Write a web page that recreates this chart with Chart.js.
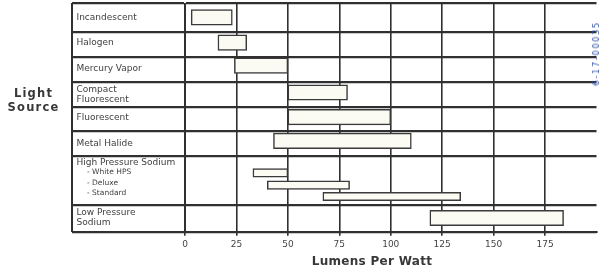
<!DOCTYPE html>
<html>
<head>
<meta charset="utf-8">
<script src="https://cdn.jsdelivr.net/npm/chart.js@4.4.1/dist/chart.umd.min.js"></script>
<style>
html,body{margin:0;padding:0;background:#fff;}
#wrap{position:relative;width:600px;height:272px;overflow:hidden;background:#fff;}
#c{position:absolute;left:0;top:0;}
.t{position:absolute;font-family:"DejaVu Sans",sans-serif;font-weight:bold;color:#383838;white-space:nowrap;}
#ytitle{left:0;top:85.6px;width:67px;text-align:center;font-size:11.5px;line-height:14.3px;letter-spacing:1.2px;}
#xtitle{left:292px;top:253.5px;width:160px;text-align:center;font-size:12px;line-height:14px;letter-spacing:0.3px;}
#stamp{position:absolute;left:593px;top:21px;font-family:"DejaVu Sans",sans-serif;font-size:8px;line-height:8px;color:#2e4e9e;letter-spacing:1.8px;writing-mode:vertical-rl;transform:rotate(180deg);white-space:nowrap;}
</style>
</head>
<body>
<div id="wrap">
<canvas id="c" width="600" height="272"></canvas>
<div class="t" id="ytitle">Light<br>Source</div>
<div class="t" id="xtitle">Lumens Per Watt</div>
<div id="stamp">6-17-00035</div>
</div>
<script>
// ---- data ----
const categories = ['Incandescent', 'Halogen', 'Mercury Vapor', 'Compact Fluorescent', 'Fluorescent',
                    'Metal Halide', 'White HPS', 'Deluxe', 'Standard', 'Low Pressure Sodium'];
const lowValues  = [3, 16, 24, 50, 50, 43, 33, 40, 67, 119];
const highValues = [23, 30, 50, 79, 100, 110, 50, 80, 134, 184];
const hpsSubtype = [false, false, false, false, false, false, true, true, true, false];
const rowLabels = [['Incandescent'], ['Halogen'], ['Mercury Vapor'], ['Compact', 'Fluorescent'], ['Fluorescent'],
                   ['Metal Halide'], ['High Pressure Sodium'], ['- White HPS'], ['- Deluxe'], ['- Standard'],
                   ['Low Pressure', 'Sodium']];
const rowLabelSub = [false, false, false, false, false, false, false, true, true, true, false];
const xTickLabels = ['0', '25', '50', '75', '100', '125', '150', '175'];

// ---- layout (row slots on the light-source axis, in row units) ----
const barSlot   = [0.55, 1.54, 2.45, 3.51, 4.48, 5.42, 6.68, 7.16, 7.61, 8.46];
const labelSlot = [0.55, 1.56, 2.58, 3.60, 4.50, 5.52, 6.27, 6.66, 7.10, 7.47, 8.46];
const rowEdges  = [0, 1.136, 2.098, 3.084, 4.07, 5.028, 6.002, 7.946, 9];

const FAMILY = '"DejaVu Sans", sans-serif';
const LINE = '#303030';

function makeData(sub) {
  const d = [];
  categories.forEach((c, i) => {
    if (hpsSubtype[i] === sub) d.push({ y: barSlot[i], x: [lowValues[i], highValues[i]], name: c });
  });
  return d;
}

const barStyle = {
  backgroundColor: '#fbfaf3',
  borderColor: '#3a3a3a',
  borderWidth: 1.5,
  borderSkipped: false,
  stack: 'all'
};

new Chart(document.getElementById('c'), {
  type: 'bar',
  data: {
    datasets: [
      Object.assign({ label: 'Light source', data: makeData(false), barThickness: 15.5 }, barStyle),
      Object.assign({ label: 'High Pressure Sodium', data: makeData(true), barThickness: 8.5 }, barStyle)
    ]
  },
  options: {
    indexAxis: 'y',
    responsive: false,
    animation: false,
    events: [],
    layout: { padding: { left: 72, top: 3.5, right: 0, bottom: 0 }, autoPadding: false },
    plugins: { legend: { display: false }, tooltip: { enabled: false }, title: { display: false } },
    scales: {
      x: {
        type: 'linear',
        position: 'bottom',
        min: 0, max: 200,
        stacked: false,
        offset: false,
        afterFit: (s) => { s.height = 40.3; },
        ticks: {
          stepSize: 25,
          autoSkip: false,
          maxRotation: 0,
          padding: 3.5,
          color: '#444',
          font: { family: FAMILY, size: 9 },
          callback: (v, i) => (xTickLabels[i] !== undefined ? xTickLabels[i] : '')
        },
        grid: {
          color: (ctx) => (ctx.tick && ctx.tick.value >= 200 ? 'rgba(0,0,0,0)' : LINE),
          lineWidth: 1.6,
          tickLength: 4,
          drawTicks: true,
          offset: false
        },
        border: { display: true, color: LINE, width: 2 }
      },
      y: {
        type: 'linear',
        position: 'left',
        reverse: true,
        min: 0, max: 9,
        offset: false,
        weight: 0,
        afterFit: (s) => { s.width = 113; },
        afterBuildTicks: (s) => {
          const t = [];
          labelSlot.forEach((v, i) => t.push({ value: v, kind: rowLabelSub[i] ? 'sub' : 'main', lines: rowLabels[i] }));
          rowEdges.forEach((v) => t.push({ value: v, kind: 'edge' }));
          s.ticks = t;
        },
        ticks: {
          autoSkip: false,
          crossAlign: 'far',
          padding: 0,
          color: '#404040',
          font: (ctx) => {
            const k = ctx.tick ? ctx.tick.kind : 'edge';
            if (k === 'sub') return { family: FAMILY, size: 7.5, lineHeight: 1.1 };
            if (k === 'main') return { family: FAMILY, size: 9, lineHeight: 1.1 };
            return { family: FAMILY, size: 1, lineHeight: 1 };
          },
          callback: function (v, i, ticks) {
            const t = ticks[i];
            if (!t || t.kind === 'edge') return '';
            const pre = t.kind === 'sub' ? '\u2003\u2003' : '\u2002';
            return t.lines.map((l) => pre + l);
          }
        },
        grid: {
          color: (ctx) => (ctx.tick && ctx.tick.kind === 'edge' ? LINE : 'rgba(0,0,0,0)'),
          lineWidth: 2.2,
          tickLength: 113,
          drawTicks: true,
          offset: false
        },
        border: { display: true, color: LINE, width: 2 }
      },
      yb: {
        type: 'linear',
        position: 'left',
        min: 0, max: 9,
        offset: false,
        weight: 10,
        afterFit: (s) => { s.width = 0; },
        ticks: { display: false },
        grid: { display: false, drawTicks: false, offset: false },
        border: { display: true, color: LINE, width: 2 }
      }
    }
  }
});
</script>
</body>
</html>
